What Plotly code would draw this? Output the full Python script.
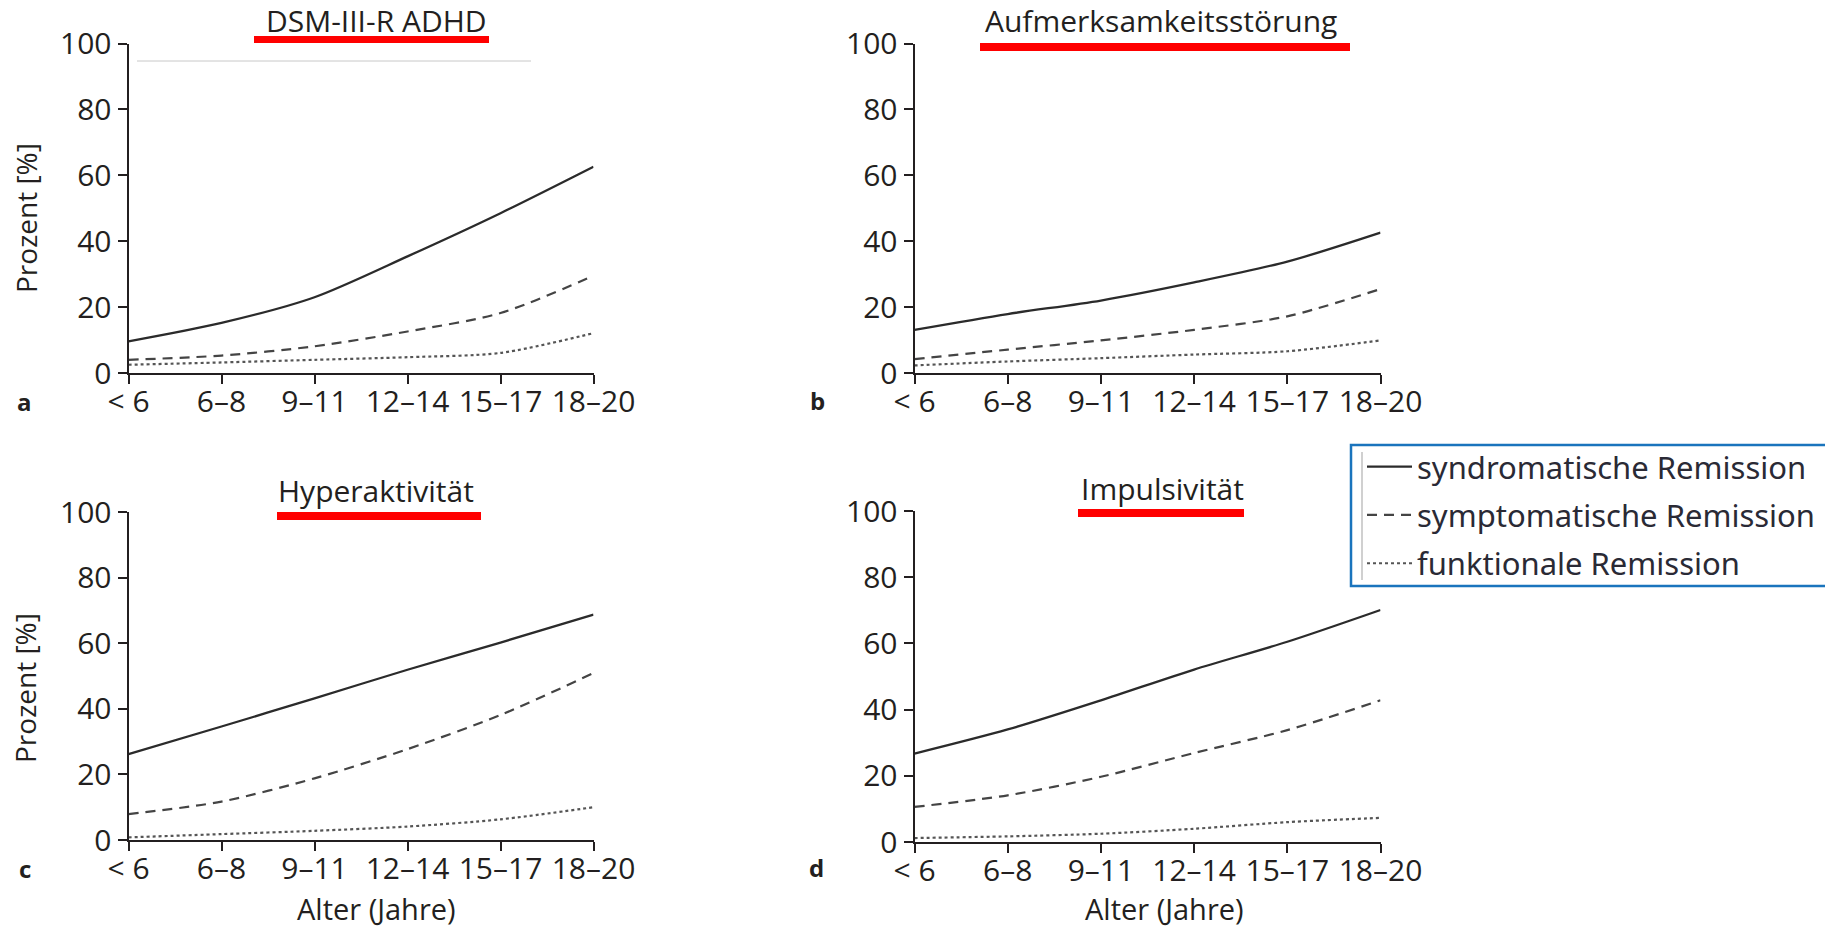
import plotly.graph_objects as go

# ---------------- data ----------------
categories = ["< 6", "6–8", "9–11", "12–14", "15–17", "18–20"]
series_names = ["syndromatische Remission", "symptomatische Remission", "funktionale Remission"]
panel_titles = ["DSM-III-R ADHD", "Aufmerksamkeitsstörung", "Hyperaktivität", "Impulsivität"]
panel_letters = ["a", "b", "c", "d"]
y_ticks = [0, 20, 40, 60, 80, 100]

# a: DSM-III-R ADHD
adhd_syndromatic = [9.6, 15.2, 23.0, 35.4, 48.5, 62.6]
adhd_symptomatic = [4.0, 5.3, 8.1, 12.6, 18.2, 29.5]
adhd_functional = [2.5, 3.2, 4.0, 4.8, 6.1, 12.1]
# b: Aufmerksamkeitsstörung
att_syndromatic = [13.1, 17.9, 22.0, 27.5, 33.8, 42.6]
att_symptomatic = [4.2, 7.1, 9.9, 13.1, 17.2, 25.5]
att_functional = [2.3, 3.5, 4.5, 5.6, 6.6, 9.9]
# c: Hyperaktivität
hyp_syndromatic = [26.2, 34.6, 43.2, 51.9, 60.2, 68.7]
hyp_symptomatic = [7.9, 11.7, 18.8, 27.7, 38.1, 50.9]
hyp_functional = [0.8, 1.8, 2.8, 4.1, 6.3, 10.0]
# d: Impulsivität
imp_syndromatic = [26.7, 34.0, 42.8, 52.1, 60.5, 70.1]
imp_symptomatic = [10.6, 14.1, 19.7, 26.9, 33.8, 42.8]
imp_functional = [1.2, 1.7, 2.5, 4.0, 6.0, 7.3]

panels = [
    [adhd_syndromatic, adhd_symptomatic, adhd_functional],
    [att_syndromatic, att_symptomatic, att_functional],
    [hyp_syndromatic, hyp_symptomatic, hyp_functional],
    [imp_syndromatic, imp_symptomatic, imp_functional],
]

# ---------------- styling / layout ----------------
W, H = 1825, 927
def px(x):
    return x / W
def py(y):
    return 1 - y / H

FONT = "Open Sans, Noto Sans, sans-serif"
INK = "#231f20"

# plot-area boxes in pixels: left, right, top, bottom
boxes = [
    (128.5, 593.5, 43.5, 373),
    (914.5, 1380.5, 43.5, 373),
    (128.5, 593.5, 512, 840),
    (914.5, 1380.5, 511, 842),
]
line_styles = [
    dict(color="#2b2b2b", width=2.3, dash="solid"),
    dict(color="#444444", width=2.2, dash="10px,7px"),
    dict(color="#555555", width=2.2, dash="3px,3px"),
]

fig = go.Figure()
for p, series in enumerate(panels):
    ax = "" if p == 0 else str(p + 1)
    for s, vals in enumerate(series):
        fig.add_trace(go.Scatter(
            x=categories, y=vals, mode="lines",
            line=dict(shape="spline", smoothing=0.8, **line_styles[s]),
            name=series_names[s], legendgroup=series_names[s],
            showlegend=(p == 0),
            xaxis="x" + ax, yaxis="y" + ax,
        ))

layout = dict(
    width=W, height=H,
    margin=dict(l=0, r=0, t=0, b=0, autoexpand=False),
    paper_bgcolor="white", plot_bgcolor="white",
    font=dict(family=FONT, size=30, color=INK),
    legend=dict(
        x=px(1362), y=py(440), xanchor="left", yanchor="top",
        borderwidth=0, bgcolor="rgba(0,0,0,0)",
        font=dict(family="Noto Sans", size=31, color="#2a2a35"),
        traceorder="grouped", tracegroupgap=5, itemwidth=45,
    ),
    shapes=[], annotations=[],
)

for p, (l, r, t, b) in enumerate(boxes):
    ax = "" if p == 0 else str(p + 1)
    layout["xaxis" + ax] = dict(
        domain=[px(l), px(r)], anchor="y" + ax, type="category",
        range=[0, len(categories) - 1], automargin=False, tickangle=0,
        showline=True, linecolor=INK, linewidth=2,
        ticks="outside", ticklen=9, tickwidth=2, tickcolor=INK,
        ticklabelstandoff=-8,
        showgrid=False, zeroline=False,
        tickfont=dict(family=FONT, size=30, color=INK),
    )
    layout["yaxis" + ax] = dict(
        domain=[py(b), py(t)], anchor="x" + ax, automargin=False,
        range=[0, 100], tickvals=y_ticks,
        showline=True, linecolor=INK, linewidth=2,
        ticks="outside", ticklen=9, tickwidth=2, tickcolor=INK,
        showgrid=False, zeroline=False,
        tickfont=dict(family=FONT, size=30, color=INK),
    )

# titles and red underlines
title_pos = [(376, 21), (1161, 21), (376, 490), (1162, 489)]
red_bars = [(254, 489, 36, 43), (980, 1350, 43, 51), (277, 481, 512, 520), (1078, 1244, 509, 517)]
letter_pos = [(24, 402), (817, 400), (25, 868), (816, 867)]
for p in range(4):
    tx, ty = title_pos[p]
    layout["annotations"].append(dict(
        text=panel_titles[p], x=px(tx), y=py(ty), xref="paper", yref="paper",
        xanchor="center", yanchor="middle", showarrow=False,
        font=dict(family=FONT, size=30, color=INK)))
    x0, x1, y0, y1 = red_bars[p]
    layout["shapes"].append(dict(
        type="rect", xref="paper", yref="paper",
        x0=px(x0), x1=px(x1), y0=py(y1), y1=py(y0),
        fillcolor="#ff0000", line=dict(width=0)))
    lx, ly = letter_pos[p]
    layout["annotations"].append(dict(
        text="<b>%s</b>" % panel_letters[p], x=px(lx), y=py(ly), xref="paper", yref="paper",
        xanchor="center", yanchor="middle", showarrow=False,
        font=dict(family=FONT, size=24, color=INK)))

# axis titles
for (x, y) in [(26, 218), (25, 688)]:
    layout["annotations"].append(dict(
        text="Prozent [%]", x=px(x), y=py(y), xref="paper", yref="paper",
        xanchor="center", yanchor="middle", textangle=-90, showarrow=False,
        font=dict(family=FONT, size=28, color=INK)))
for (x, y) in [(376, 908), (1164, 908)]:
    layout["annotations"].append(dict(
        text="Alter (Jahre)", x=px(x), y=py(y), xref="paper", yref="paper",
        xanchor="center", yanchor="middle", showarrow=False,
        font=dict(family=FONT, size=29, color=INK)))

# legend frame (runs off the right edge like in the original)
layout["shapes"].append(dict(type="rect", xref="paper", yref="paper",
                             x0=px(1351), x1=px(1835), y0=py(586), y1=py(445),
                             line=dict(color="#1a74bd", width=2.5), fillcolor="rgba(0,0,0,0)"))
# faint scan artefacts: thin grey line in panel a and inside legend
layout["shapes"].append(dict(type="line", xref="paper", yref="paper",
                             x0=px(137), x1=px(531), y0=py(61), y1=py(61),
                             line=dict(color="#c8c8c8", width=1)))
layout["shapes"].append(dict(type="line", xref="paper", yref="paper",
                             x0=px(1362), x1=px(1362), y0=py(452), y1=py(580),
                             line=dict(color="#d0d0d0", width=2)))

fig.update_layout(**layout)
fig.write_html("out.html", config={"displayModeBar": False},
               post_script="document.body.style.margin='0';document.body.style.overflow='hidden';")
